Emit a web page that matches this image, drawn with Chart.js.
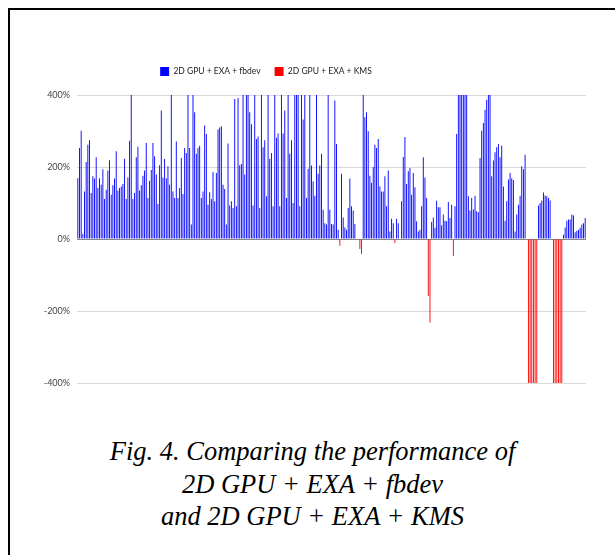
<!DOCTYPE html>
<html>
<head>
<meta charset="utf-8">
<script src="https://cdn.jsdelivr.net/npm/chart.js@4.4.1/dist/chart.umd.min.js"></script>
<style>
  body { margin: 0; background: #fff; width: 615px; height: 555px; overflow: hidden; position: relative; }
  .frame { position: absolute; left: 8px; top: 8px; right: -10px; bottom: -10px; border-top: 2px solid #000; border-left: 2px solid #000; }
  .wrap { position: absolute; left: 0; top: 0; width: 615px; height: 400px; }
  .caption { position: absolute; left: 10px; right: 0; top: 435px; text-align: center;
    font-family: "Liberation Serif", "Times New Roman", serif; font-style: italic; font-size: 26.5px; line-height: 32.5px; color: #000; }
</style>
</head>
<body>
<div class="frame"></div>
<div class="wrap"><canvas id="myChart"></canvas></div>
<div class="caption">Fig. 4. Comparing the performance of<br>2D GPU + EXA + fbdev<br>and 2D GPU + EXA + KMS</div>
<script>
// % difference per test (bars are clipped at +/-400%)
const fbdevGain = [
  169,253,301,14,132,214,262,274,128,174,
  168,227,142,169,151,194,111,137,190,219,
  123,149,168,244,135,142,146,153,223,111,
  171,273,400,111,128,227,256,135,149,176,
  190,267,114,162,192,267,230,179,97,205,
  357,171,222,169,202,151,400,132,114,271,
  114,142,225,125,253,239,400,253,40,400,
  352,237,253,259,114,132,
  315,292,95,130,111,186,105,183,304,310,313,
  151,139,40,265,93,105,86,389,91,392,
  205,208,400,179,400,400,352,319,93,400,278,
  285,86,400,255,274,119,400,223,239,91,
  400,281,293,91,400,293,357,114,400,237,
  274,100,400,400,400,91,400,332,400,114,
  195,400,204,160,120,400,181,204,237,81,44,
  40,400,
  81,42,40,385,264,26,0,181,60,32,
  26,86,168,91,79,42,0,0,0,0,
  400,338,352,299,176,156,200,262,253,278,
  146,132,132,174,91,190,21,56,44,0,
  56,44,0,105,228,283,153,188,197,123,
  183,144,49,21,26,91,227,171,114,0,
  0,47,60,31,106,88,88,38,68,51,
  49,103,58,95,0,91,292,
  400,400,400,400,400,400,119,79,114,82,
  120,77,74,225,301,322,359,387,400,400,
  174,218,241,255,264,227,259,146,51,105,
  165,183,169,164,21,68,95,120,202,194,
  234,0,0,0,0,0,0,0,93,100,
  107,129,121,119,114,107,0,0,0,0,
  0,0,0,12,32,51,54,54,68,65,
  19,23,26,31,40,44,58
];

const kmsGain = [
  0,0,0,0,0,0,0,0,0,0,
  0,0,0,0,0,0,0,0,0,0,
  0,0,0,0,0,0,0,0,0,0,
  0,0,0,0,0,0,0,0,0,0,
  0,0,0,0,0,0,0,0,0,0,
  0,0,0,0,0,0,0,0,0,0,
  0,0,0,0,0,0,0,0,0,0,
  0,0,0,0,0,0,
  0,0,0,0,0,0,0,0,0,0,0,
  0,0,0,0,0,0,0,0,0,0,
  0,0,0,0,0,0,0,0,0,0,0,
  0,0,0,0,0,0,0,0,0,0,
  0,0,0,0,0,0,0,0,0,0,
  0,0,0,0,0,0,0,0,0,0,
  0,0,0,0,0,0,0,0,0,0,0,
  0,0,
  0,0,0,0,0,0,-19,0,0,0,
  0,0,0,0,0,0,0,0,-28,-42,
  0,0,0,0,0,0,0,0,0,0,
  0,0,0,0,0,0,0,0,0,-11,
  0,0,0,0,0,0,0,0,0,0,
  0,0,0,0,0,0,0,0,0,-158,
  -232,0,0,0,0,0,0,0,0,0,
  0,0,0,0,-47,0,0,
  0,0,0,0,0,0,0,0,0,0,
  0,0,0,0,0,0,0,0,0,0,
  0,0,0,0,0,0,0,0,0,0,
  0,0,0,0,0,0,0,0,0,0,
  0,0,-400,-400,-400,-400,-400,-400,0,0,
  0,0,0,0,0,0,0,-400,-400,-400,
  -400,-400,-400,0,0,0,0,0,0,0,
  0,0,0,0,0,0,0
];

const tests = fbdevGain.map((v, i) => 'test ' + (i + 1));
const yTicks = [-400, -200, 0, 200, 400];

// extra space under the legend, and move it a bit to the left like the original
const legendFix = {
  id: 'legendFix',
  beforeInit(chart) {
    const fit = chart.legend.fit;
    chart.legend.fit = function () {
      fit.bind(chart.legend)();
      this.height += 9;
    };
  },
  afterLayout(chart) {
    chart.legend.left -= 27;
    chart.legend.right -= 27;
  }
};

const ctx = document.getElementById('myChart').getContext('2d');
const myChart = new Chart(ctx, {
  type: 'bar',
  data: {
    labels: tests,
    datasets: [
      { label: '2D GPU + EXA + fbdev', data: fbdevGain, backgroundColor: '#0000ff', barPercentage: 0.55, categoryPercentage: 1 },
      { label: '2D GPU + EXA + KMS', data: kmsGain, backgroundColor: '#ff0000', barPercentage: 0.55, categoryPercentage: 1 }
    ]
  },
  options: {
    responsive: true,
    maintainAspectRatio: false,
    animation: false,
    layout: { padding: { top: 53, right: 29, bottom: 17, left: 0 } },
    plugins: {
      tooltip: { enabled: false },
      legend: {
        position: 'top',
        labels: {
          boxWidth: 9, boxHeight: 9, padding: 14, color: '#222',
          font: { family: 'Lato', size: 8.5 }
        }
      }
    },
    scales: {
      x: { stacked: true, display: false },
      y: {
        stacked: true,
        min: -400, max: 400,
        afterFit(scale) { scale.width = 77; },
        afterBuildTicks(scale) { scale.ticks = yTicks.map(v => ({ value: v })); },
        border: { display: false },
        grid: {
          drawTicks: false,
          color: c => c.tick.value === 0 ? '#888' : '#d9d9d9'
        },
        ticks: {
          padding: 7, color: '#444',
          font: { family: 'Lato', size: 9 },
          callback: v => v + '%'
        }
      }
    }
  },
  plugins: [legendFix]
});
</script>
</body>
</html>
